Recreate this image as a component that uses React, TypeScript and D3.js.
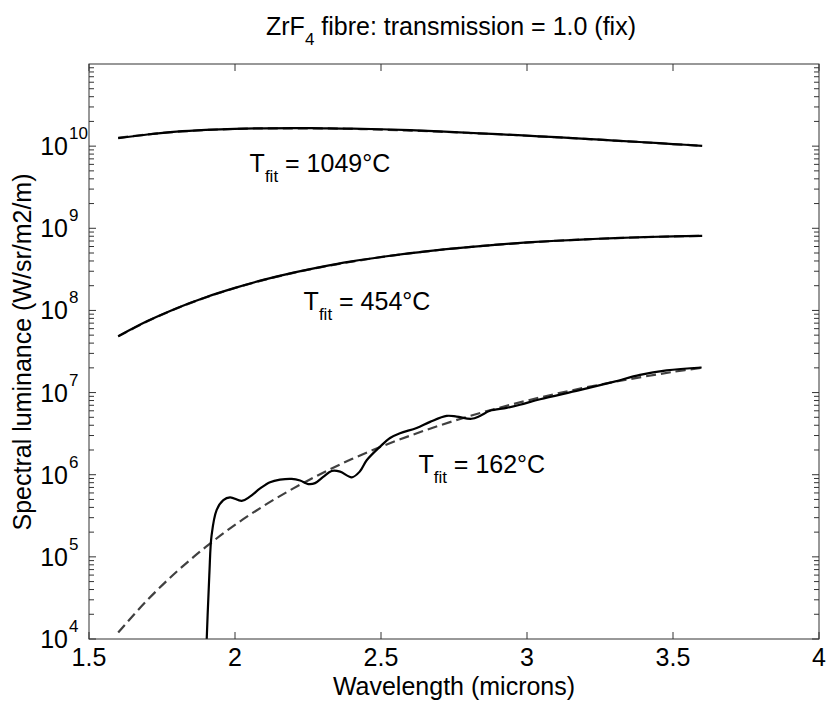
import React from "react";
import * as d3 from "d3";

const W = 827;
const H = 705;

const titleMain = "ZrF";
const titleSub = "4";
const titleRest = " fibre: transmission = 1.0 (fix)";
const xLabel = "Wavelength (microns)";
const yLabel = "Spectral luminance (W/sr/m2/m)";

const xTicks = [1.5, 2, 2.5, 3, 3.5, 4];
const yExponents = [4, 5, 6, 7, 8, 9, 10];

const wavelengths = [1.6, 1.7, 1.8, 1.9, 2.0, 2.1, 2.2, 2.3, 2.4, 2.5, 2.6, 2.7, 2.8, 2.9, 3.0, 3.1, 3.2, 3.3, 3.4, 3.5, 3.6];

// fitted curves (dashed)
const fit1049 = [1.26e10, 1.39e10, 1.495e10, 1.57e10, 1.62e10, 1.646e10, 1.642e10, 1.645e10, 1.622e10, 1.59e10, 1.547e10, 1.501e10, 1.448e10, 1.396e10, 1.339e10, 1.28e10, 1.224e10, 1.168e10, 1.113e10, 1.059e10, 1.008e10];
const fit454 = [4.83e7, 7.37e7, 1.058e8, 1.44e8, 1.875e8, 2.355e8, 2.864e8, 3.39e8, 3.924e8, 4.451e8, 4.96e8, 5.445e8, 5.9e8, 6.315e8, 6.696e8, 7.035e8, 7.329e8, 7.585e8, 7.794e8, 7.966e8, 8.1e8];
const fit162 = [1.2e4, 2.98e4, 6.59e4, 1.32e5, 2.45e5, 4.21e5, 6.82e5, 1.05e6, 1.55e6, 2.19e6, 2.99e6, 3.97e6, 5.13e6, 6.46e6, 7.98e6, 9.67e6, 1.152e7, 1.35e7, 1.562e7, 1.785e7, 2.01e7];

// measured curves (solid)
const meas1049 = [1.25e10, 1.385e10, 1.5e10, 1.575e10, 1.625e10, 1.65e10, 1.655e10, 1.65e10, 1.63e10, 1.605e10, 1.565e10, 1.515e10, 1.455e10, 1.4e10, 1.34e10, 1.285e10, 1.228e10, 1.17e10, 1.115e10, 1.06e10, 1.01e10];
const meas454 = [4.85e7, 7.42e7, 1.065e8, 1.45e8, 1.88e8, 2.37e8, 2.88e8, 3.42e8, 3.95e8, 4.47e8, 4.98e8, 5.47e8, 5.9e8, 6.33e8, 6.72e8, 7.05e8, 7.33e8, 7.6e8, 7.8e8, 7.98e8, 8.1e8];

const meas162Wl = [1.9, 1.912, 1.92, 1.937, 1.96, 1.983, 2.023, 2.051, 2.086, 2.12, 2.154, 2.194, 2.223, 2.251, 2.274, 2.302, 2.331, 2.36, 2.4, 2.428, 2.451, 2.497, 2.531, 2.565, 2.622, 2.668, 2.725, 2.759, 2.81, 2.839, 2.873, 2.93, 2.976, 3.045, 3.18, 3.296, 3.387, 3.478, 3.598];
const meas162 = [5e3, 6e4, 1.85e5, 3.7e5, 4.9e5, 5.3e5, 4.8e5, 5.4e5, 6.8e5, 8.1e5, 8.7e5, 8.9e5, 8.5e5, 7.7e5, 7.9e5, 9.4e5, 1.11e6, 1.09e6, 9.3e5, 1.1e6, 1.5e6, 2.2e6, 2.8e6, 3.2e6, 3.7e6, 4.4e6, 5.2e6, 5.1e6, 4.8e6, 5.2e6, 6.0e6, 6.5e6, 7.1e6, 8.3e6, 1.07e7, 1.35e7, 1.64e7, 1.86e7, 2.02e7];

const labels = [
  { text: "1049°C", wl: 2.05, v: 4.9e9 },
  { text: "454°C", wl: 2.235, v: 1.0e8 },
  { text: "162°C", wl: 2.628, v: 1.05e6 },
];

const FONT = "'Liberation Sans', Arial, Helvetica, sans-serif";

export default function App() {
  const left = 89, right = 819, top = 64, bottom = 639;
  const x = d3.scaleLinear().domain([1.5, 4]).range([left, right]);
  const y = d3.scaleLog().domain([1e4, 1e11]).range([bottom, top]);

  const line = d3
    .line<[number, number]>()
    .x((d) => x(d[0]))
    .y((d) => y(d[1]))
    .curve(d3.curveCatmullRom.alpha(0.5));

  const pts = (wl: number[], vs: number[]) => wl.map((w, i) => [w, vs[i]] as [number, number]);

  const minor: number[] = [];
  for (let e = 4; e < 11; e++) {
    for (let k = 2; k <= 9; k++) minor.push(k * Math.pow(10, e));
  }

  const axisColor = "#333";
  const fs = 25;
  const fsSmall = 17;

  return (
    <svg width={W} height={H} style={{ position: "absolute", left: 0, top: 0, background: "#fff" }} fontFamily={FONT}>
      <defs>
        <clipPath id="plot">
          <rect x={left} y={top} width={right - left} height={bottom - top} />
        </clipPath>
      </defs>
      <rect x={0} y={0} width={W} height={H} fill="#fff" />

      {/* title */}
      <text x={451} y={35} fontSize={fs} textAnchor="middle" fill="#000">
        {titleMain}
        <tspan fontSize={fsSmall} dy={10}>{titleSub}</tspan>
        <tspan fontSize={fs} dy={-10}>{titleRest}</tspan>
      </text>

      {/* curves */}
      <g clipPath="url(#plot)" fill="none">
        <path d={line(pts(wavelengths, fit1049)) || ""} stroke="#404040" strokeWidth={2.2} strokeDasharray="10,5" />
        <path d={line(pts(wavelengths, fit454)) || ""} stroke="#404040" strokeWidth={2.2} strokeDasharray="10,5" />
        <path d={line(pts(wavelengths, fit162)) || ""} stroke="#404040" strokeWidth={2.2} strokeDasharray="10,5" />
        <path d={line(pts(wavelengths, meas1049)) || ""} stroke="#000" strokeWidth={2.2} />
        <path d={line(pts(wavelengths, meas454)) || ""} stroke="#000" strokeWidth={2.2} />
        <path d={line(pts(meas162Wl, meas162)) || ""} stroke="#000" strokeWidth={2.2} />
      </g>

      {/* frame */}
      <rect x={left} y={top} width={right - left} height={bottom - top} fill="none" stroke={axisColor} strokeWidth={1} />

      {/* x ticks */}
      {xTicks.map((t) => (
        <g key={"xt" + t}>
          <line x1={x(t)} x2={x(t)} y1={bottom} y2={bottom - 7} stroke={axisColor} />
          <line x1={x(t)} x2={x(t)} y1={top} y2={top + 7} stroke={axisColor} />
          <text x={x(t)} y={666} fontSize={fs} textAnchor="middle" fill="#000">
            {String(t)}
          </text>
        </g>
      ))}

      {/* y major ticks */}
      {yExponents.map((e) => {
        const yy = y(Math.pow(10, e));
        return (
          <g key={"ye" + e}>
            <line x1={left} x2={left + 7} y1={yy} y2={yy} stroke={axisColor} />
            <line x1={right} x2={right - 7} y1={yy} y2={yy} stroke={axisColor} />
            <text x={68} y={yy + 9} fontSize={fs} textAnchor="end" fill="#000">10</text>
            <text x={69} y={yy - 7} fontSize={fsSmall} textAnchor="start" fill="#000">{String(e)}</text>
          </g>
        );
      })}

      {/* y minor ticks */}
      {minor.map((v, i) => {
        const yy = y(v);
        return (
          <g key={"ym" + i}>
            <line x1={left} x2={left + 5} y1={yy} y2={yy} stroke={axisColor} />
            <line x1={right} x2={right - 5} y1={yy} y2={yy} stroke={axisColor} />
          </g>
        );
      })}

      {/* annotations */}
      {labels.map((l) => (
        <text key={l.text} x={x(l.wl)} y={y(l.v)} fontSize={fs} fill="#000">
          T
          <tspan fontSize={fsSmall} dy={10}>fit</tspan>
          <tspan fontSize={fs} dy={-10}>{" = " + l.text}</tspan>
        </text>
      ))}

      {/* axis labels */}
      <text x={454} y={695} fontSize={fs} textAnchor="middle" fill="#000">{xLabel}</text>
      <text transform="translate(31,352) rotate(-90)" fontSize={fs} textAnchor="middle" fill="#000">{yLabel}</text>
    </svg>
  );
}
